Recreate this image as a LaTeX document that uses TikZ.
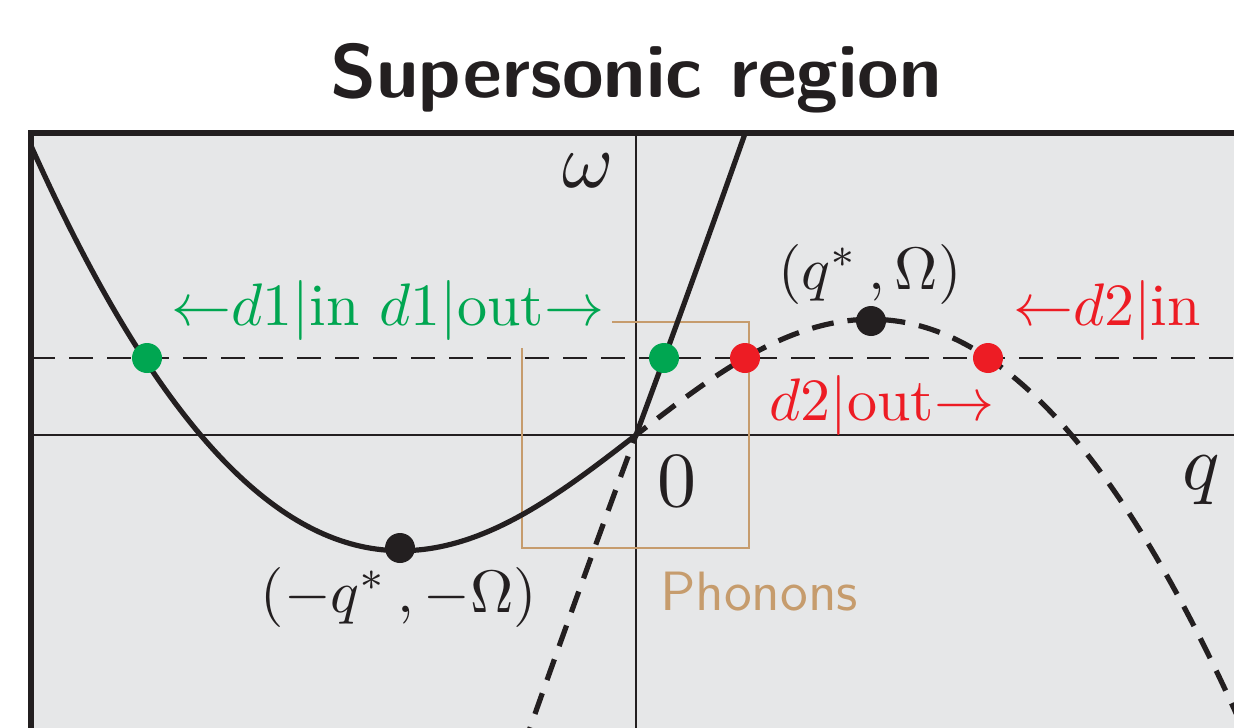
\documentclass[tikz,border=0pt]{standalone}
\usepackage{fontspec}
\definecolor{bgc}{RGB}{230,231,232}
\definecolor{inkc}{RGB}{35,31,32}
\definecolor{grn}{RGB}{0,166,81}
\definecolor{rd}{RGB}{237,28,36}
\definecolor{tan}{RGB}{198,156,109}
\newcommand{\mlbl}[1]{\scalebox{3}{$#1$}}
\newcommand{\blbl}[1]{\scalebox{3.9}{$#1$}}
\newcommand{\lar}{\mathord{\leftarrow}}
\newcommand{\rar}{\mathord{\rightarrow}}
\tikzset{
  dotnode/.style={circle,inner sep=0pt,minimum size=15pt},
  lbl/.style={inner sep=1pt,font=\fontsize{10}{12}\selectfont},
  curve/.style={line width=2.6pt,color=inkc},
  dcurve/.style={line width=2.6pt,color=inkc,dash pattern=on 11pt off 7pt},
}
\begin{document}
\begin{tikzpicture}[x=50pt,y=-50pt]
\useasboundingbox (0,0) rectangle (12.34,7.27);
\clip (0,0) rectangle (12.34,7.27);
% frame
\fill[bgc] (0.31,1.33) rectangle (12.6,7.6);
\coordinate (ytop) at (6.36,1.33);
\coordinate (ybot) at (6.36,7.3);
\coordinate (xl) at (0.31,4.35);
\coordinate (xr) at (12.4,4.35);
\coordinate (hl) at (0.31,3.58);
\coordinate (hr) at (12.4,3.58);
\draw[inkc,line width=1.2pt] (ytop) -- (ybot);
\draw[inkc,line width=1.2pt] (xl) -- (xr);
\draw[inkc,line width=1.2pt,dash pattern=on 12pt off 7pt] (hl) -- (hr);
% phonon box
\draw[tan,line width=1.3pt] (5.22,3.22) rectangle (7.49,5.48);
% curves
\begin{scope}
\clip (0.31,1.33) rectangle (12.6,7.6);
\draw[curve,line join=round] plot[domain=-6.3:0,samples=120] ({6.36+\x},{4.35-\x*(1.623-0.849*sqrt(1+0.14*\x*\x))})
  -- plot[domain=0:1.2,samples=30] ({6.36+\x},{4.35-(2.7*\x+0.06*\x*\x)});
\draw[dcurve] plot[domain=-1.25:0,samples=30] ({6.36+\x},{4.35-(2.7*\x-0.06*\x*\x)})
  -- plot[domain=0:6.3,samples=120] ({6.36+\x},{4.35-\x*(1.623-0.849*sqrt(1+0.14*\x*\x))});
\end{scope}
\draw[inkc,line width=2.8pt] (0.31,7.6) -- (0.31,1.33) -- (12.6,1.33);
% labels
\node[lbl,anchor=base,text=inkc,inner sep=0pt] (title) at (6.36,0.98) {\scalebox{3.78}{\sffamily\bfseries Supersonic region}};
\node[lbl,text=grn,fill=bgc,inner sep=4pt] (d1lbl) at (3.88,3.10) {\mlbl{\lar d1|\mathrm{in}\ d1|\mathrm{out}\rar}};
\node[lbl,text=rd] (d2in) at (11.07,3.10) {\mlbl{\lar d2|\mathrm{in}}};
\node[lbl,text=rd] (d2out) at (8.82,4.05) {\mlbl{d2|\mathrm{out}\rar}};
\node[lbl,text=inkc] (maxlbl) at (8.70,2.745) {\mlbl{(q^*\,,\Omega)}};
\node[lbl,text=inkc] (minlbl) at (3.99,5.97) {\mlbl{(-q^*\,,-\Omega)}};
\node[lbl,text=inkc] (wlbl) at (5.88,1.71) {\blbl{\omega}};
\node[lbl,text=inkc] (qlbl) at (12.01,4.80) {\blbl{q}};
\node[lbl,text=inkc] (zlbl) at (6.77,4.815) {\blbl{0}};
\node[lbl,text=tan] (phon) at (7.59,5.92) {\scalebox{2.77}{\sffamily Phonons}};
% dots
\node[dotnode,fill=grn] (g1) at (1.47,3.58) {};
\node[dotnode,fill=grn] (g2) at (6.64,3.58) {};
\node[dotnode,fill=rd] (r1) at (7.45,3.58) {};
\node[dotnode,fill=rd] (r2) at (9.88,3.58) {};
\node[dotnode,fill=inkc] (mx) at (8.71,3.21) {};
\node[dotnode,fill=inkc] (mn) at (4.00,5.48) {};
\end{tikzpicture}
\end{document}
